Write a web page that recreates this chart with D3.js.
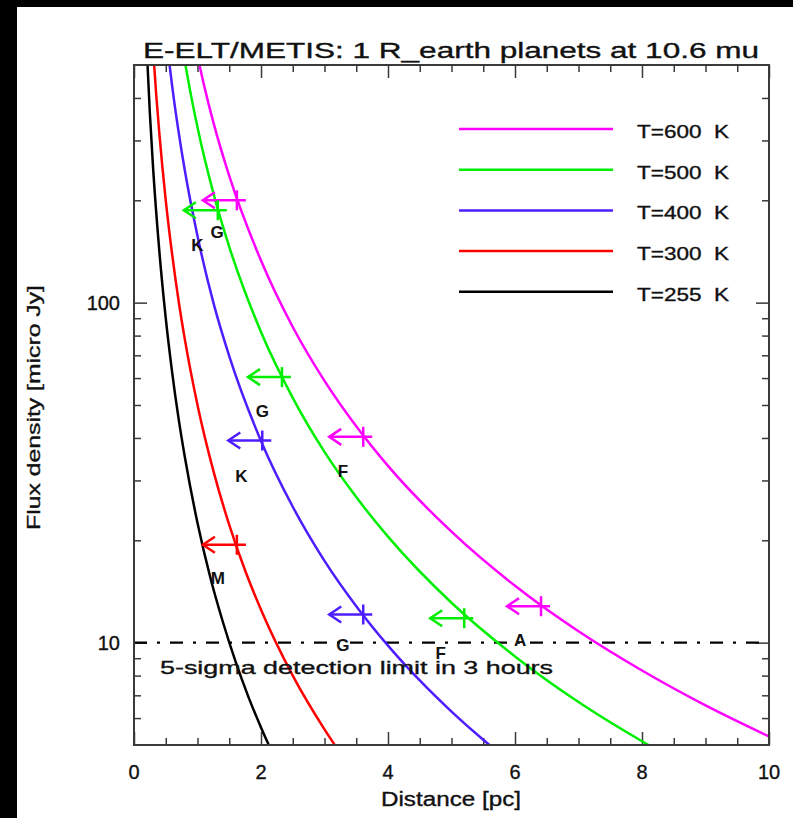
<!DOCTYPE html>
<html>
<head>
<meta charset="utf-8">
<script src="https://cdn.jsdelivr.net/npm/d3@7"></script>
<style>
  html, body { margin: 0; padding: 0; background: #fff; }
  svg { display: block; font-family: "Liberation Sans", Arial, sans-serif; }
  .lbl { fill: #111; stroke: #111; stroke-width: 0.35; }
</style>
</head>
<body>
<svg id="chart" width="793" height="818"></svg>
<script>
// Flux density of a 1 Earth-radius planet at 10.6 micron vs. distance, per temperature
const series = [
  { name: "T=600  K", color: "#ff00ff",
    dist: [1.0, 1.1, 1.25, 1.5, 2.0, 2.5, 3.0, 3.5, 4.0, 5.0, 6.0, 7.0, 8.0, 9.0, 10.0],
    flux: [530, 438, 339, 236, 133, 84.8, 58.9, 43.3, 33.1, 21.2, 14.7, 10.8, 8.28, 6.54, 5.30] },
  { name: "T=500  K", color: "#00ee00",
    dist: [0.8, 0.9, 1.0, 1.25, 1.5, 2.0, 2.5, 3.0, 3.5, 4.0, 5.0, 6.0, 7.0, 8.0, 8.5],
    flux: [513, 405, 328, 210, 146, 82.0, 52.5, 36.4, 26.8, 20.5, 13.1, 9.11, 6.69, 5.13, 4.54] },
  { name: "T=400  K", color: "#4d1dff",
    dist: [0.55, 0.6, 0.7, 0.8, 1.0, 1.25, 1.5, 2.0, 2.5, 3.0, 3.5, 4.0, 4.5, 5.0, 5.5, 6.0],
    flux: [518, 435, 320, 245, 157, 100, 69.6, 39.2, 25.1, 17.4, 12.8, 9.80, 7.74, 6.27, 5.18, 4.35] },
  { name: "T=300  K", color: "#ff0000",
    dist: [0.3, 0.35, 0.4, 0.5, 0.6, 0.7, 0.8, 1.0, 1.25, 1.5, 1.75, 2.0, 2.5, 3.0, 3.25],
    flux: [556, 408, 313, 200, 139, 102, 78.1, 50.0, 32.0, 22.2, 16.3, 12.5, 8.00, 5.56, 4.73] },
  { name: "T=255  K", color: "#000000",
    dist: [0.2, 0.25, 0.3, 0.4, 0.5, 0.6, 0.7, 0.8, 1.0, 1.2, 1.4, 1.6, 1.8, 2.0, 2.2],
    flux: [562, 360, 250, 141, 90.0, 62.5, 45.9, 35.2, 22.5, 15.6, 11.5, 8.79, 6.94, 5.63, 4.65] }
];

// Example stars: planet position on each curve (cross + left-pointing arrow)
const markerColor = ["#ff00ff", "#00ee00", "#00ee00", "#4d1dff", "#ff00ff", "#ff0000", "#4d1dff", "#00ee00", "#ff00ff"];
const markerDist  = [1.62, 1.32, 2.33, 2.02, 3.61, 1.62, 3.61, 5.20, 6.41];
const markerFlux  = [200, 187, 60.4, 39.3, 40.3, 19.4, 12.1, 11.8, 12.8];

// Spectral-type labels
const typeText = ["K", "G", "G", "K", "F", "M", "G", "F", "A"];
const typeDist = [1.00, 1.31, 2.02, 1.69, 3.29, 1.32, 3.29, 4.83, 6.08];
const typeFlux = [147.8, 161, 48, 31, 32, 15.5, 9.85, 9.35, 10.2];

const detectionLimit = 10;
const detectionText = "5-sigma detection limit in 3 hours";

const xMajorTicks = [0, 2, 4, 6, 8, 10];
const yMajorTicks = [10, 100];
const yMinorTicks = [6, 7, 8, 9, 20, 30, 40, 50, 60, 70, 80, 90, 200, 300, 400];

const titleText = "E-ELT/METIS: 1 R_earth planets at 10.6 mu";
const xLabel = "Distance [pc]";
const yLabel = "Flux density [micro Jy]";

// ---- layout ----
const svg = d3.select("#chart");
const L = 134, R = 769, T = 65, B = 745;

const x = d3.scaleLinear().domain([0, 10]).range([L, R]);
const y = d3.scaleLog().domain([5, 500]).range([B, T]);

svg.append("rect").attr("width", 793).attr("height", 818).attr("fill", "#fff");
// dark edges of the frame
svg.append("rect").attr("x", 0).attr("y", 0).attr("width", 793).attr("height", 7).attr("fill", "#000");
svg.append("rect").attr("x", 0).attr("y", 0).attr("width", 17).attr("height", 818).attr("fill", "#000");

const axisColor = "#3a3a3a";
const majorLen = 13, minorLen = 7;
const xMinorTicks = d3.range(0.5, 10, 0.5).filter(v => !xMajorTicks.includes(v));

function styleAxis(g) {
  g.select(".domain").remove();
  g.selectAll("line").attr("stroke", axisColor).attr("stroke-width", 1.5);
  g.selectAll("text").remove();
}

// inward ticks on all four sides
svg.append("g").attr("transform", `translate(0,${B})`)
  .call(d3.axisBottom(x).tickValues(xMajorTicks).tickSize(-majorLen)).call(styleAxis);
svg.append("g").attr("transform", `translate(0,${B})`)
  .call(d3.axisBottom(x).tickValues(xMinorTicks).tickSize(-minorLen)).call(styleAxis);
svg.append("g").attr("transform", `translate(0,${T})`)
  .call(d3.axisTop(x).tickValues(xMajorTicks).tickSize(-majorLen)).call(styleAxis);
svg.append("g").attr("transform", `translate(0,${T})`)
  .call(d3.axisTop(x).tickValues(xMinorTicks).tickSize(-minorLen)).call(styleAxis);
svg.append("g").attr("transform", `translate(${L},0)`)
  .call(d3.axisLeft(y).tickValues(yMajorTicks).tickSize(-majorLen)).call(styleAxis);
svg.append("g").attr("transform", `translate(${L},0)`)
  .call(d3.axisLeft(y).tickValues(yMinorTicks).tickSize(-minorLen)).call(styleAxis);
svg.append("g").attr("transform", `translate(${R},0)`)
  .call(d3.axisRight(y).tickValues(yMajorTicks).tickSize(-majorLen)).call(styleAxis);
svg.append("g").attr("transform", `translate(${R},0)`)
  .call(d3.axisRight(y).tickValues(yMinorTicks).tickSize(-minorLen)).call(styleAxis);

// tick labels
svg.append("g").selectAll("text").data(xMajorTicks).join("text").attr("class", "lbl")
  .attr("x", d => x(d)).attr("y", 779).attr("text-anchor", "middle")
  .attr("font-size", 20).text(d => d);
svg.append("g").selectAll("text").data(yMajorTicks).join("text").attr("class", "lbl")
  .attr("x", 120).attr("y", d => y(d) + 7).attr("text-anchor", "end")
  .attr("font-size", 20).text(d => d);

// clip region for the curves
svg.append("clipPath").attr("id", "plotClip")
  .append("rect").attr("x", L).attr("y", T).attr("width", R - L).attr("height", B - T);

const plot = svg.append("g").attr("clip-path", "url(#plotClip)");

// detection limit line (dash-dot)
plot.append("line")
  .attr("x1", L).attr("x2", R).attr("y1", y(detectionLimit)).attr("y2", y(detectionLimit))
  .attr("stroke", "#000").attr("stroke-width", 2.2)
  .attr("stroke-dasharray", "13,10,3,10");

const line = d3.line().curve(d3.curveMonotoneX)
  .x(d => x(d[0])).y(d => y(d[1]));

plot.selectAll("path.curve").data(series).join("path")
  .attr("class", "curve")
  .attr("d", s => line(s.dist.map((d, i) => [d, s.flux[i]])))
  .attr("fill", "none").attr("stroke", s => s.color).attr("stroke-width", 2.5);

// star markers: vertical cross-bar at the planet plus an arrow towards smaller distance
const markers = svg.append("g").attr("fill", "none").attr("stroke-width", 2.5);
markerDist.forEach((d, i) => {
  const cx = x(d), cy = y(markerFlux[i]);
  const tip = cx - 34;
  const g = markers.append("g").attr("stroke", markerColor[i]);
  g.append("line").attr("x1", tip).attr("x2", cx + 9).attr("y1", cy).attr("y2", cy);
  g.append("line").attr("x1", cx).attr("x2", cx).attr("y1", cy - 10).attr("y2", cy + 10);
  g.append("path").attr("d", `M${tip + 12},${cy - 8}L${tip},${cy}L${tip + 12},${cy + 8}`);
});

// spectral type labels
svg.append("g").selectAll("text").data(typeText).join("text")
  .attr("x", (t, i) => x(typeDist[i])).attr("y", (t, i) => y(typeFlux[i]) + 6)
  .attr("text-anchor", "middle").attr("font-size", 17).attr("font-weight", "bold")
  .attr("fill", "#111").text(t => t);

// detection limit text
svg.append("text").attr("class", "lbl").attr("x", 160).attr("y", 674)
  .attr("font-size", 19)
  .attr("textLength", 393).attr("lengthAdjust", "spacingAndGlyphs")
  .text(detectionText);

// legend
const legend = svg.append("g");
series.forEach((s, i) => {
  const ly = 129 + i * 40.7;
  legend.append("line").attr("x1", 459).attr("x2", 613).attr("y1", ly).attr("y2", ly)
    .attr("stroke", s.color).attr("stroke-width", 2.5);
  legend.append("text").attr("class", "lbl").attr("x", 637).attr("y", ly + 9)
    .attr("font-size", 18)
    .attr("textLength", 92).attr("lengthAdjust", "spacingAndGlyphs")
    .style("white-space", "pre").text(s.name);
});

// frame
svg.append("rect").attr("x", L).attr("y", T).attr("width", R - L).attr("height", B - T)
  .attr("fill", "none").attr("stroke", axisColor).attr("stroke-width", 2);

// title and axis labels
svg.append("text").attr("class", "lbl").attr("x", 143).attr("y", 58)
  .attr("font-size", 22)
  .attr("textLength", 616).attr("lengthAdjust", "spacingAndGlyphs")
  .text(titleText);
svg.append("text").attr("class", "lbl").attr("x", 381).attr("y", 806)
  .attr("font-size", 20)
  .attr("textLength", 140).attr("lengthAdjust", "spacingAndGlyphs")
  .text(xLabel);
svg.append("text").attr("class", "lbl")
  .attr("transform", "translate(40,530) rotate(-90)")
  .attr("font-size", 18)
  .attr("textLength", 245).attr("lengthAdjust", "spacingAndGlyphs")
  .text(yLabel);
</script>
</body>
</html>
